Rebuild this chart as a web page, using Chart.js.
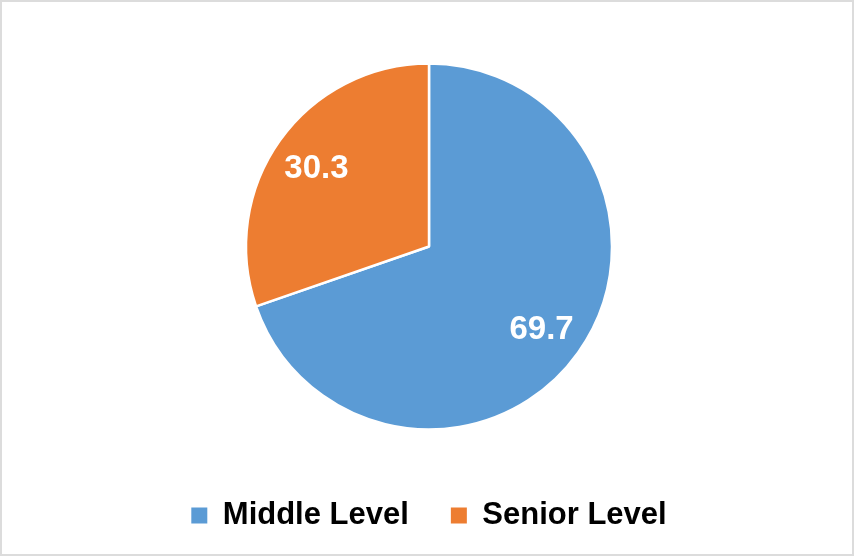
<!DOCTYPE html>
<html>
<head>
<meta charset="utf-8">
<script src="https://cdn.jsdelivr.net/npm/chart.js@4.4.0/dist/chart.umd.min.js"></script>
<style>
    html, body { margin: 0; padding: 0; background: #fff; }
    #wrap { position: relative; width: 854px; height: 556px; }
    #frame { position: absolute; left: 0; top: 0; width: 854px; height: 556px; box-sizing: border-box; border: 2px solid #dcdcdc; pointer-events: none; }
</style>
</head>
<body>
<div id="wrap">
    <canvas id="levelChart" width="854" height="556"></canvas>
    <div id="frame"></div>
</div>
<script>
const levelLabels = ['Middle Level', 'Senior Level'];
const levelValues = [69.7, 30.3];
const levelColors = ['#5b9bd5', '#ed7d31'];

const FONT = '"Liberation Sans", Arial, Helvetica, sans-serif';

// white value labels placed inside each slice
const sliceLabels = {
    id: 'sliceLabels',
    afterDatasetsDraw(chart) {
        const ctx = chart.ctx;
        const meta = chart.getDatasetMeta(0);
        ctx.save();
        ctx.fillStyle = '#ffffff';
        ctx.font = 'bold 33px ' + FONT;
        ctx.textAlign = 'center';
        ctx.textBaseline = 'middle';
        meta.data.forEach((arc, i) => {
            const p = arc.getProps(['x', 'y', 'startAngle', 'endAngle', 'outerRadius'], true);
            const mid = (p.startAngle + p.endAngle) / 2;
            const r = p.outerRadius * 0.755;
            const v = chart.data.datasets[0].data[i];
            ctx.fillText(v.toFixed(1), p.x + Math.cos(mid) * r, p.y + Math.sin(mid) * r + 3);
        });
        ctx.restore();
    }
};

const ctxLevel = document.getElementById('levelChart').getContext('2d');
new Chart(ctxLevel, {
    type: 'pie',
    data: {
        labels: levelLabels,
        datasets: [{
            data: levelValues,
            backgroundColor: levelColors,
            borderColor: '#ffffff',
            borderWidth: 2.5
        }]
    },
    options: {
        responsive: false,
        animation: false,
        radius: 183,
        layout: { padding: { top: 35, bottom: 15, left: 4, right: 0 } },
        plugins: {
            tooltip: { enabled: false },
            legend: {
                position: 'bottom',
                labels: {
                    boxWidth: 16,
                    boxHeight: 16,
                    padding: 42,
                    color: '#000000',
                    font: { family: FONT, size: 31, weight: 'bold' },
                    // solid squares, without the white slice border
                    generateLabels(chart) {
                        const items = Chart.controllers.pie.overrides.plugins.legend.labels.generateLabels(chart);
                        items.forEach(it => { it.lineWidth = 0; it.strokeStyle = it.fillStyle; });
                        return items;
                    }
                }
            }
        }
    },
    plugins: [sliceLabels]
});
</script>
</body>
</html>
